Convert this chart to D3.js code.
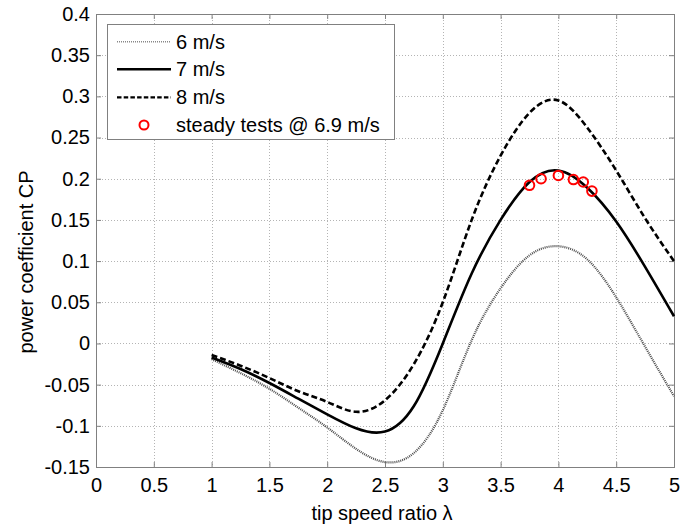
<!DOCTYPE html>
<html>
<head>
<meta charset="utf-8">
<script src="https://cdn.jsdelivr.net/npm/d3@7"></script>
<style>
  html, body { margin: 0; padding: 0; background: #fff; }
  svg { display: block; }
  text { font-family: "Liberation Sans", Arial, Helvetica, sans-serif; fill: #000; }
</style>
</head>
<body>
<svg id="chart" width="681" height="526"></svg>
<script>
// ---- data ----
const lambda = [1, 1.25, 1.5, 1.75, 2, 2.25, 2.5, 2.75, 3, 3.25, 3.5, 3.75, 4, 4.25, 4.5, 4.75, 5];
const cp6 = [-0.019, -0.036, -0.055, -0.078, -0.102, -0.128, -0.144, -0.133, -0.081, 0.004, 0.067, 0.107, 0.118, 0.102, 0.056, -0.004, -0.064];
const cp7 = [-0.017, -0.031, -0.048, -0.067, -0.086, -0.103, -0.107, -0.076, 0.000, 0.085, 0.150, 0.196, 0.210, 0.189, 0.148, 0.093, 0.033];
const cp8 = [-0.014, -0.027, -0.042, -0.058, -0.071, -0.083, -0.069, -0.025, 0.050, 0.150, 0.228, 0.280, 0.295, 0.262, 0.210, 0.152, 0.100];
const testLambda = [3.75, 3.85, 4.0, 4.13, 4.215, 4.29];
const testCP = [0.192, 0.200, 0.204, 0.199, 0.196, 0.185];
const xTicks = [0, 0.5, 1, 1.5, 2, 2.5, 3, 3.5, 4, 4.5, 5];
const yTicks = [-0.15, -0.1, -0.05, 0, 0.05, 0.1, 0.15, 0.2, 0.25, 0.3, 0.35, 0.4];
const seriesNames = ["6 m/s", "7 m/s", "8 m/s"];
const testName = "steady tests @ 6.9 m/s";
const xLabel = "tip speed ratio \u03bb";
const yLabel = "power coefficient CP";

// ---- layout ----
const L = 96, R = 674, T = 14, B = 467;
const svg = d3.select("#chart");
const x = d3.scaleLinear().domain([0, 5]).range([L, R]);
const y = d3.scaleLinear().domain([-0.15, 0.4]).range([B, T]);
const fmt = d => String(+d.toFixed(2));
const FS = 20;

// grid
const grid = svg.append("g").attr("stroke", "#b4b4b4").attr("stroke-width", 1).attr("stroke-dasharray", "1,2");
grid.selectAll("line.v").data(xTicks.slice(1, -1)).join("line")
  .attr("x1", d => Math.round(x(d)) + 0.5).attr("x2", d => Math.round(x(d)) + 0.5)
  .attr("y1", T).attr("y2", B);
grid.selectAll("line.h").data(yTicks.slice(1, -1)).join("line")
  .attr("y1", d => Math.round(y(d)) + 0.5).attr("y2", d => Math.round(y(d)) + 0.5)
  .attr("x1", L).attr("x2", R);

// axes
function styleAxis(g) {
  g.select(".domain").remove();
  g.selectAll(".tick line").attr("stroke", "#808080");
  g.selectAll(".tick text").attr("font-size", FS).attr("font-family", '"Liberation Sans", Arial, sans-serif').attr("fill", "#000");
}
svg.append("g").attr("transform", `translate(0,${B})`)
  .call(d3.axisBottom(x).tickValues(xTicks).tickFormat(fmt).tickSize(-5).tickPadding(11))
  .call(styleAxis);
svg.append("g").attr("transform", `translate(${L},0)`)
  .call(d3.axisLeft(y).tickValues(yTicks).tickFormat(fmt).tickSize(-5).tickPadding(6))
  .call(styleAxis);
svg.append("g").attr("transform", `translate(0,${T})`)
  .call(d3.axisTop(x).tickValues(xTicks).tickFormat("").tickSize(-5))
  .call(styleAxis);
svg.append("g").attr("transform", `translate(${R},0)`)
  .call(d3.axisRight(y).tickValues(yTicks).tickFormat("").tickSize(-5))
  .call(styleAxis);

// frame
svg.append("rect").attr("x", L + 0.5).attr("y", T + 0.5).attr("width", R - L).attr("height", B - T)
  .attr("fill", "none").attr("stroke", "#808080").attr("stroke-width", 1);

// curves
const styles = [
  { stroke: "#4a4a4a", width: 2.2, dash: "1,1" },
  { stroke: "#000", width: 2.6, dash: null },
  { stroke: "#000", width: 2.6, dash: "6,3" }
];
const line = d3.line().x(d => x(d[0])).y(d => y(d[1])).curve(d3.curveNatural);
[cp6, cp7, cp8].forEach((vals, i) => {
  const pts = lambda.map((l, j) => [l, vals[j]]);
  svg.append("path").datum(pts).attr("d", line)
    .attr("fill", "none").attr("stroke", styles[i].stroke)
    .attr("stroke-width", styles[i].width)
    .attr("stroke-dasharray", styles[i].dash);
});

// test points
svg.append("g").selectAll("circle").data(testLambda.map((l, i) => [l, testCP[i]])).join("circle")
  .attr("cx", d => x(d[0])).attr("cy", d => y(d[1])).attr("r", 4.8)
  .attr("fill", "none").attr("stroke", "#ff0000").attr("stroke-width", 2);

// axis labels
svg.append("text").attr("x", (L + R) / 2 - 3).attr("y", 520).attr("text-anchor", "middle")
  .attr("font-size", FS).text(xLabel);
svg.append("text").attr("transform", "translate(33,262) rotate(-90)").attr("text-anchor", "middle")
  .attr("font-size", FS).text(yLabel);

// legend
const lg = svg.append("g");
lg.append("rect").attr("x", 107.5).attr("y", 24.5).attr("width", 287).attr("height", 115)
  .attr("fill", "#fff").attr("stroke", "#808080").attr("stroke-width", 1);
const rowsY = [41.7, 69.3, 97.3, 125];
const legStyles = [
  { stroke: "#888", width: 1.6, dash: "1,1" },
  { stroke: "#000", width: 2.6, dash: null },
  { stroke: "#000", width: 2.2, dash: "4.5,2.2" }
];
seriesNames.forEach((name, i) => {
  lg.append("line").attr("x1", 117).attr("x2", 171).attr("y1", rowsY[i]).attr("y2", rowsY[i])
    .attr("stroke", legStyles[i].stroke).attr("stroke-width", legStyles[i].width)
    .attr("stroke-dasharray", legStyles[i].dash);
  lg.append("text").attr("x", 176).attr("y", rowsY[i]).attr("dy", "0.35em").attr("font-size", FS).text(name);
});
lg.append("circle").attr("cx", 144).attr("cy", rowsY[3]).attr("r", 4.5)
  .attr("fill", "none").attr("stroke", "#ff0000").attr("stroke-width", 2);
lg.append("text").attr("x", 176).attr("y", rowsY[3]).attr("dy", "0.35em").attr("font-size", FS).text(testName);
</script>
</body>
</html>
